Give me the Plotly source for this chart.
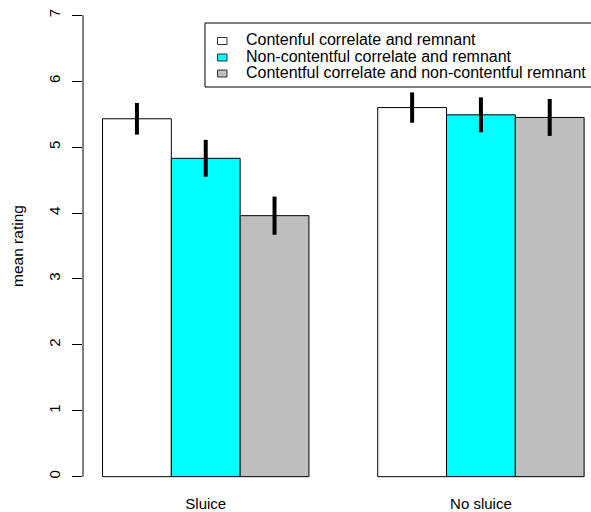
import plotly.graph_objects as go

# ---- data ----
groups = ["Sluice", "No sluice"]
series_names = [
    "Contenful correlate and remnant",
    "Non-contentful correlate and remnant",
    "Contentful correlate and non-contentful remnant",
]
contentful_both = [5.43, 5.60]
noncontentful_both = [4.83, 5.49]
contentful_corr_noncontentful_rem = [3.96, 5.45]
err_contentful_both = [0.24, 0.23]
err_noncontentful_both = [0.28, 0.265]
err_contentful_corr_noncontentful_rem = [0.29, 0.28]
y_ticks = [0, 1, 2, 3, 4, 5, 6, 7]

series_values = [contentful_both, noncontentful_both, contentful_corr_noncontentful_rem]
series_errors = [err_contentful_both, err_noncontentful_both, err_contentful_corr_noncontentful_rem]
colors = ["#FFFFFF", "#00FFFF", "#BEBEBE"]

FONT = "Liberation Sans, Arial, sans-serif"
W, H = 591, 512
ML, MR, MT, MB = 83, 0, 0, 17
PW, PH = W - ML - MR, H - MT - MB

def px_x(p):
    return (p - ML) / PW

def px_y(p):
    return 1 - (p - MT) / PH

fig = go.Figure()
for name, vals, errs, col in zip(series_names, series_values, series_errors, colors):
    fig.add_trace(go.Bar(
        x=groups, y=vals, name=name,
        marker=dict(color=col, line=dict(color="black", width=1)),
        error_y=dict(type="data", array=errs, visible=True, color="black",
                     thickness=4, width=0),
        showlegend=False,
    ))

# axis line from 0 to 7 (R style)
fig.add_shape(type="line", xref="paper", yref="y", x0=0, x1=0, y0=0, y1=7,
              line=dict(color="black", width=1))

# legend box (manual, R-style)
fig.add_shape(type="rect", xref="paper", yref="paper",
              x0=px_x(205), x1=px_x(640), y0=px_y(87), y1=px_y(23),
              line=dict(color="black", width=1), fillcolor="rgba(0,0,0,0)")
row_y = [39.5, 56, 72]
for name, col, ry in zip(series_names, colors, row_y):
    fig.add_shape(type="rect", xref="paper", yref="paper",
                  x0=px_x(217.5), x1=px_x(227), y0=px_y(ry + 5), y1=px_y(ry - 2),
                  line=dict(color="#333333", width=1), fillcolor=col)
    fig.add_annotation(text=name, xref="paper", yref="paper",
                       x=px_x(243.5), y=px_y(ry), xanchor="left", yanchor="middle",
                       showarrow=False, font=dict(family=FONT, size=16, color="black"))

# y axis title
fig.add_annotation(text="mean rating", xref="paper", yref="y",
                   x=px_x(18), y=3.5, textangle=-90, showarrow=False,
                   xanchor="center", yanchor="middle",
                   font=dict(family=FONT, size=15.5, color="black"))

fig.update_layout(
    width=W, height=H,
    margin=dict(l=ML, r=MR, t=MT, b=MB),
    paper_bgcolor="white", plot_bgcolor="white",
    barmode="group", bargap=0.25, bargroupgap=0,
    font=dict(family=FONT, size=15, color="black"),
    xaxis=dict(type="category", range=[-0.446, 1.400], showgrid=False,
               zeroline=False, showline=False, ticks="", automargin=False,
               ticklabelstandoff=-2,
               tickfont=dict(family=FONT, size=15, color="black")),
    yaxis=dict(range=[-0.278, 7.232], tickvals=y_ticks, ticks="outside",
               ticklen=10, tickwidth=1, tickcolor="black", tickangle=-90,
               showgrid=False, zeroline=False, showline=False,
               ticklabelstandoff=6, automargin=False,
               tickfont=dict(family=FONT, size=15, color="black")),
)

fig.write_html(
    "out.html",
    config={"displayModeBar": False},
    post_script="document.body.style.margin='0';document.body.style.overflow='hidden';",
)
